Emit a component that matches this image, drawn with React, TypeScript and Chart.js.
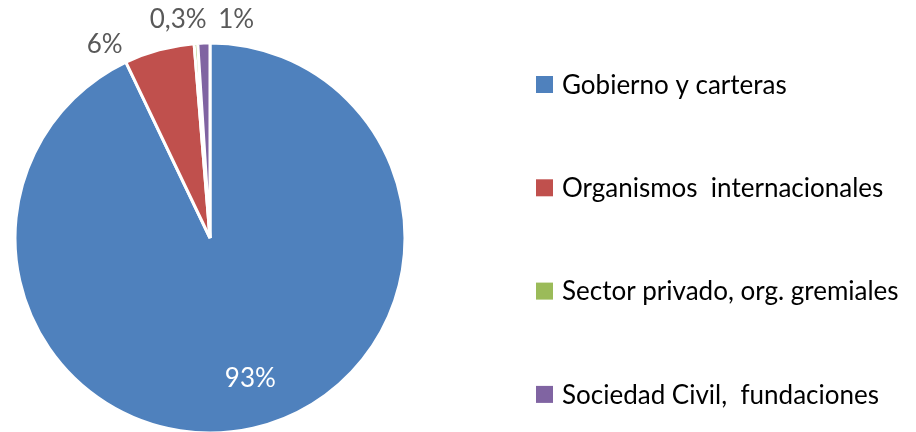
import React, { useEffect, useRef } from "react";
import { Chart, registerables } from "chart.js";

Chart.register(...registerables);

const categories = [
  "Gobierno y carteras",
  "Organismos  internacionales",
  "Sector privado, org. gremiales",
  "Sociedad Civil,  fundaciones",
];
const shares = [92.9, 5.8, 0.3, 1.0];
const valueLabels = ["93%", "6%", "0,3%", "1%"];
const colors = ["#4F81BD", "#C0504D", "#9BBB59", "#8064A2"];

const FONT = "Lato, 'Open Sans', sans-serif";

// label placement: inside (fraction of radius) or outside (radius + px), plus nudge
const labelPlacement = [
  { inside: true, r: 0.75, dx: 8, dy: -2, color: "#FFFFFF" },
  { inside: false, r: 25, dx: -48, dy: 19, color: "#595959" },
  { inside: false, r: 25, dx: -16, dy: 1, color: "#595959" },
  { inside: false, r: 25, dx: 33, dy: 2, color: "#595959" },
];

const valueLabelPlugin = {
  id: "valueLabels",
  afterDatasetsDraw(chart: any) {
    const ctx = chart.ctx;
    const meta = chart.getDatasetMeta(0);
    ctx.save();
    ctx.font = `26px ${FONT}`;
    ctx.textAlign = "center";
    ctx.textBaseline = "middle";
    meta.data.forEach((arc: any, i: number) => {
      const p = labelPlacement[i];
      const { x, y, startAngle, endAngle, outerRadius } = arc.getProps(
        ["x", "y", "startAngle", "endAngle", "outerRadius"],
        true
      );
      const mid = (startAngle + endAngle) / 2;
      const rr = p.inside ? outerRadius * p.r : outerRadius + p.r;
      const lx = x + Math.cos(mid) * rr + p.dx;
      const ly = y + Math.sin(mid) * rr + p.dy;
      ctx.fillStyle = p.color;
      ctx.fillText(valueLabels[i], lx, ly);
    });
    ctx.restore();
  },
};

const legendLayout = { x: 528, top: 76.5, step: 103.3, box: 17, gap: 9 };

const customLegendPlugin = {
  id: "customLegend",
  afterDraw(chart: any) {
    const ctx = chart.ctx;
    const labels = chart.data.labels as string[];
    const bg = chart.data.datasets[0].backgroundColor as string[];
    ctx.save();
    ctx.font = `26px ${FONT}`;
    ctx.textAlign = "left";
    ctx.textBaseline = "middle";
    labels.forEach((lab, i) => {
      const cy = legendLayout.top + i * legendLayout.step;
      ctx.fillStyle = bg[i];
      ctx.fillRect(legendLayout.x, cy - legendLayout.box / 2, legendLayout.box, legendLayout.box);
      ctx.fillStyle = "#000000";
      ctx.fillText(lab, legendLayout.x + legendLayout.box + legendLayout.gap, cy + 1);
    });
    ctx.restore();
  },
};

export default function App() {
  const ref = useRef<HTMLCanvasElement | null>(null);
  useEffect(() => {
    if (!ref.current) return;
    const chart = new Chart(ref.current, {
      type: "pie",
      data: {
        labels: categories,
        datasets: [
          {
            data: shares,
            backgroundColor: colors,
            borderColor: "#FFFFFF",
            borderWidth: 3,
            radius: 195,
          } as any,
        ],
      },
      options: {
        animation: false,
        responsive: false,
        layout: { padding: { left: 0, right: 496, top: 36, bottom: 0 } },
        plugins: {
          legend: { display: false },
          tooltip: { enabled: false },
        },
      },
      plugins: [valueLabelPlugin, customLegendPlugin],
    });
    return () => chart.destroy();
  }, []);
  return (
    <div style={{ width: 900, height: 424 }}>
      <canvas ref={ref} width={900} height={424} style={{ display: "block" }} />
    </div>
  );
}
